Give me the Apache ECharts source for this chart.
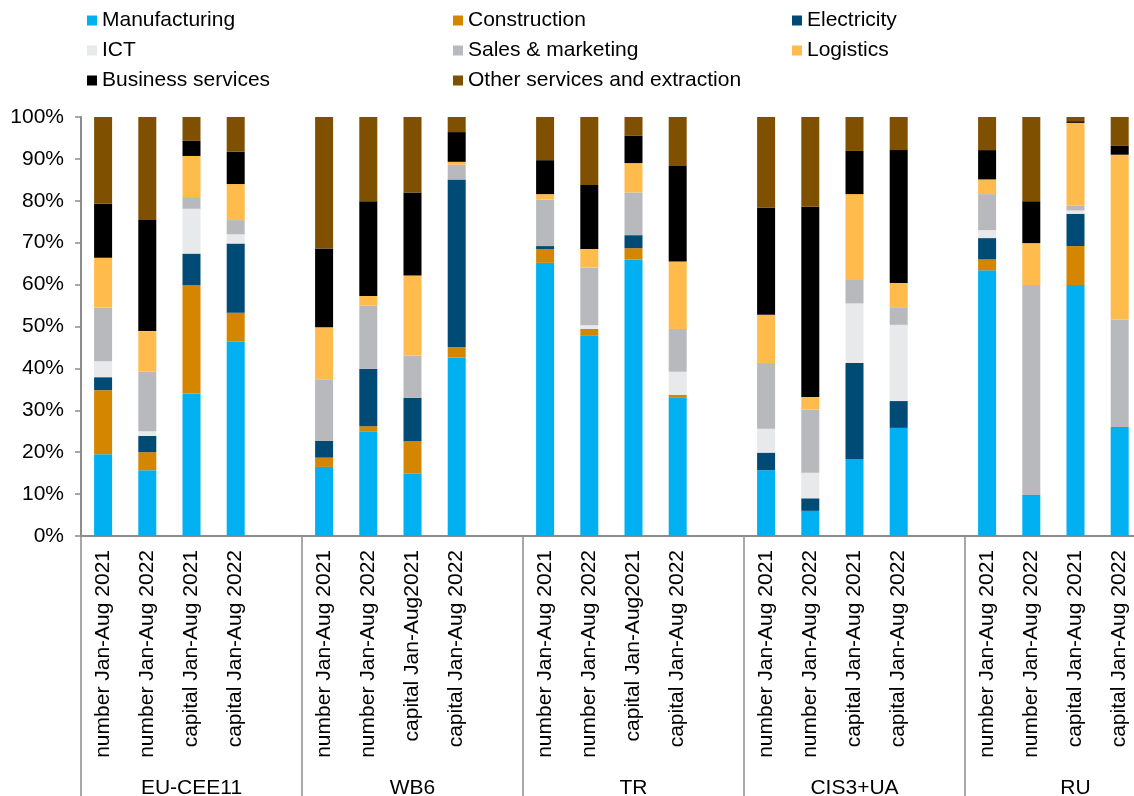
<!DOCTYPE html>
<html>
<head>
<meta charset="utf-8">
<script src="https://cdn.jsdelivr.net/npm/echarts@6/dist/echarts.min.js"></script>
<style>
  html, body { margin: 0; padding: 0; background: #fff; }
  #main { width: 1134px; height: 796px; }
</style>
</head>
<body>
<div id="main"></div>
<script>
// categories: 4 bars per region + one empty slot after each region
var groups = ['EU-CEE11', 'WB6', 'TR', 'CIS3+UA', 'RU']
var categories = [
  'number Jan-Aug 2021', 'number Jan-Aug 2022', 'capital Jan-Aug 2021', 'capital Jan-Aug 2022', '',
  'number Jan-Aug 2021', 'number Jan-Aug 2022', 'capital Jan-Aug2021', 'capital Jan-Aug 2022', '',
  'number Jan-Aug 2021', 'number Jan-Aug 2022', 'capital Jan-Aug2021', 'capital Jan-Aug 2022', '',
  'number Jan-Aug 2021', 'number Jan-Aug 2022', 'capital Jan-Aug 2021', 'capital Jan-Aug 2022', '',
  'number Jan-Aug 2021', 'number Jan-Aug 2022', 'capital Jan-Aug 2021', 'capital Jan-Aug 2022', ''
]
var yTicks = [0, 10, 20, 30, 40, 50, 60, 70, 80, 90, 100]

// shares in %
var manufacturing = [19.5, 15.7, 34.0, 46.4, null, 16.5, 25.0, 14.9, 42.6, null, 65.2, 47.9, 66.0, 33.1, null, 15.7, 6.0, 18.4, 25.8, null, 63.4, 9.8, 59.9, 26.0, null]
var construction  = [15.3, 4.3, 25.8, 6.9, null, 2.2, 1.2, 7.7, 2.5, null, 3.3, 1.5, 2.7, 0.6, null, 0, 0, 0, 0, null, 2.6, 0, 9.3, 0, null]
var electricity   = [3.1, 3.9, 7.6, 16.5, null, 4.0, 13.7, 10.4, 40.0, null, 0.7, 0, 3.1, 0, null, 4.2, 3.0, 22.9, 6.4, null, 5.1, 0, 7.7, 0, null]
var ict           = [3.8, 1.1, 10.7, 2.2, null, 0, 0, 0, 0, null, 0, 0.9, 0, 5.5, null, 5.7, 6.1, 14.2, 18.2, null, 1.9, 0, 0.8, 0, null]
var sales         = [12.8, 14.2, 2.8, 3.4, null, 14.7, 15.1, 10.0, 3.5, null, 11.1, 13.8, 10.2, 10.2, null, 15.7, 15.1, 5.6, 4.2, null, 8.6, 50.1, 1.2, 25.7, null]
var logistics     = [11.9, 9.7, 9.8, 8.6, null, 12.4, 2.3, 19.2, 0.7, null, 1.3, 4.4, 7.0, 16.1, null, 11.5, 3.0, 20.5, 5.8, null, 3.5, 10.0, 19.7, 39.3, null]
var business      = [12.9, 26.5, 3.6, 7.7, null, 18.8, 22.6, 19.8, 7.1, null, 8.1, 15.3, 6.5, 22.8, null, 25.6, 45.4, 10.3, 31.7, null, 7.0, 10.0, 0.4, 2.1, null]
var other         = [20.7, 24.6, 5.7, 8.3, null, 31.4, 20.1, 18.0, 3.6, null, 10.3, 16.2, 4.5, 11.7, null, 21.6, 21.4, 8.1, 7.9, null, 7.9, 20.1, 1.0, 6.9, null]

var seriesNames = ['Manufacturing', 'Construction', 'Electricity', 'ICT', 'Sales & marketing', 'Logistics', 'Business services', 'Other services and extraction']
var seriesData = [manufacturing, construction, electricity, ict, sales, logistics, business, other]
var colors = ['#00B0F0', '#D58600', '#004B76', '#E8E9EB', '#B8B9BC', '#FFBC4C', '#000000', '#7E5000']

var font = 'Liberation Sans, Arial, sans-serif'
var fontSize = 21
var axisGray = '#8C8C8C'

var series = seriesNames.map(function (name, i) {
  return {
    name: name,
    type: 'bar',
    stack: 'total',
    barWidth: 18,
    xAxisIndex: 0,
    itemStyle: { color: colors[i] },
    data: seriesData[i]
  }
})

function legendCol(left, names) {
  return {
    orient: 'vertical',
    left: left,
    top: 10,
    padding: 0,
    icon: 'rect',
    itemWidth: 10,
    itemHeight: 10,
    itemGap: 9,
    textStyle: { fontFamily: font, fontSize: fontSize, color: '#000', lineHeight: 21 },
    data: names
  }
}

var chart = echarts.init(document.getElementById('main'))
chart.setOption({
  animation: false,
  color: colors,
  legend: [
    legendCol(87, ['Manufacturing', 'ICT', 'Business services']),
    legendCol(453, ['Construction', 'Sales & marketing', 'Other services and extraction']),
    legendCol(792, ['Electricity', 'Logistics'])
  ],
  // plot area runs past the right edge, as in the source picture
  grid: { left: 81, width: 1105, top: 117, height: 419, containLabel: false, outerBoundsMode: 'none' },
  xAxis: [{
    type: 'category',
    data: categories,
    axisLine: { lineStyle: { color: axisGray, width: 2 } },
    axisTick: { show: false },
    axisLabel: {
      interval: 0,
      rotate: 90,
      margin: 14,
      fontFamily: font,
      fontSize: fontSize,
      color: '#000'
    }
  }, {
    type: 'category',
    position: 'bottom',
    data: groups,
    axisLine: { show: false },
    axisTick: { show: true, length: 270, lineStyle: { color: axisGray, width: 1.5 } },
    axisLabel: {
      interval: 0,
      margin: 242,
      fontFamily: font,
      fontSize: fontSize,
      color: '#000'
    }
  }],
  yAxis: {
    type: 'value',
    min: yTicks[0],
    max: yTicks[yTicks.length - 1],
    interval: 10,
    splitLine: { show: false },
    axisLine: { show: true, lineStyle: { color: axisGray, width: 2 } },
    axisTick: { show: true, length: 6, lineStyle: { color: axisGray, width: 1.5 } },
    axisLabel: {
      margin: 17,
      formatter: '{value}%',
      fontFamily: font,
      fontSize: fontSize,
      color: '#000'
    }
  },
  series: series
})
</script>
</body>
</html>
